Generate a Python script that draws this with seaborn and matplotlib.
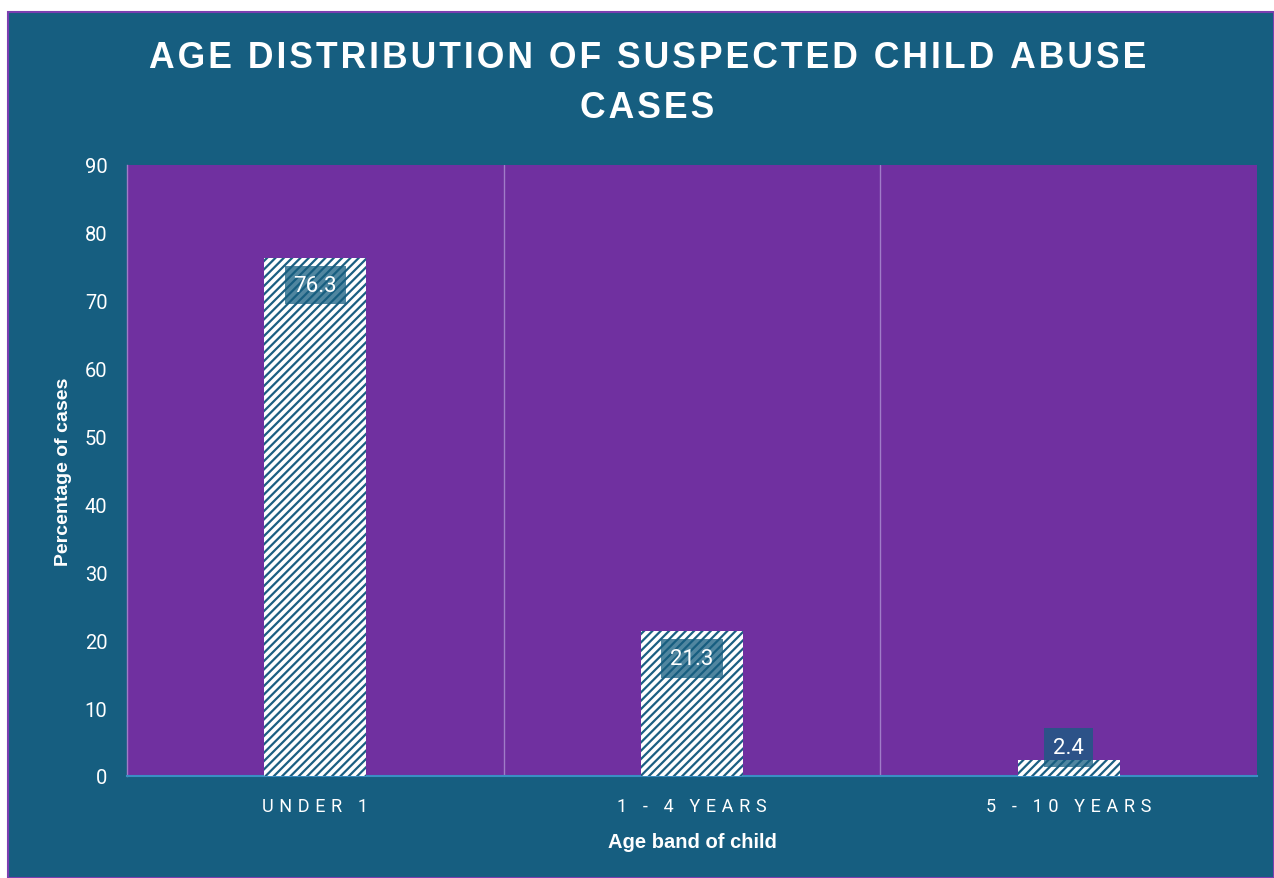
import matplotlib
matplotlib.use("Agg")
import matplotlib.pyplot as plt
import seaborn as sns
import pandas as pd
from matplotlib.patches import Rectangle

categories = ["UNDER 1", "1 - 4 YEARS", "5 - 10 YEARS"]
values = [76.3, 21.3, 2.4]
yticks = [0, 10, 20, 30, 40, 50, 60, 70, 80, 90]
title_lines = ["AGE DISTRIBUTION OF SUSPECTED CHILD ABUSE", "CASES"]
xlabel = "Age band of child"
ylabel = "Percentage of cases"

TEAL = "#165e80"
PURPLE = "#7030a0"
HATCH = "#1b5f82"

sns.set_theme(style="white")
plt.rcParams["hatch.linewidth"] = 1.6

HS = "\u200a"


def spaced(s, n=1):
    return (HS * n).join(s)


df = pd.DataFrame({"cat": categories, "val": values})

fig = plt.figure(figsize=(12.74, 8.79), dpi=100)
fig.patch.set_facecolor("white")
bg = Rectangle((8 / 1274, 0), 1 - 8 / 1274, 1 - 13 / 879, transform=fig.transFigure,
               facecolor=TEAL, edgecolor="#7b3fb0", linewidth=1.5, zorder=-10)
fig.patches.append(bg)

ax = fig.add_axes([127 / 1274, 1 - 777 / 879, (1257 - 127) / 1274, (777 - 166) / 879])
ax.set_facecolor(PURPLE)

sns.barplot(data=df, x="cat", y="val", ax=ax, width=0.27, color="white",
            saturation=1, edgecolor=HATCH, linewidth=0, hatch="////", zorder=3)
for p in ax.patches:
    p.set_hatch("////")
    p.set_edgecolor(HATCH)
    p.set_linewidth(0)

ax.set_ylim(0, 90)
ax.set_xlim(-0.5, len(categories) - 0.5)
ax.set_yticks(yticks)
ax.set_yticklabels([str(t) for t in yticks], color="white", fontsize=14.5, family="Roboto")
ax.set_xticks(range(len(categories)))
ax.set_xticklabels([spaced(c, 3) for c in categories], color="white", fontsize=13,
                   family="Roboto")
ax.tick_params(axis="y", length=0, pad=14)
ax.tick_params(axis="x", length=0, pad=15)

for b in [0.5, 1.5]:
    ax.axvline(b, color="#a07cc8", linewidth=1, zorder=2)

for s in ["top", "right"]:
    ax.spines[s].set_visible(False)
ax.spines["left"].set_color("#a07cc8")
ax.spines["left"].set_linewidth(1)
ax.spines["bottom"].set_color("#3a8ec4")
ax.spines["bottom"].set_linewidth(1.5)

ax.set_xlabel(xlabel, color="white", fontsize=14.5, fontweight="bold",
              family="Liberation Sans", labelpad=12)
ax.set_ylabel(ylabel, color="white", fontsize=14, fontweight="bold",
              family="Liberation Sans", labelpad=9)

for i, v in enumerate(values):
    offset = -27 if v > 10 else 12
    ax.annotate(f"{v}", xy=(i, v), xytext=(0, offset * 0.72), textcoords="offset points",
                ha="center", va="center", color="white", fontsize=16, family="Roboto",
                bbox=dict(boxstyle="square,pad=0.4", facecolor=TEAL, alpha=0.75,
                          edgecolor="none"), zorder=5)

fig.text(0.508, 1 - 59 / 879, spaced(title_lines[0], 1), ha="center", va="center",
         color="white", fontsize=25.6, fontweight="bold", family="Liberation Sans")
fig.text(0.508, 1 - 108 / 879, spaced(title_lines[1], 1), ha="center", va="center",
         color="white", fontsize=25.6, fontweight="bold", family="Liberation Sans")

fig.savefig("out.png", dpi=100, facecolor=fig.get_facecolor())
